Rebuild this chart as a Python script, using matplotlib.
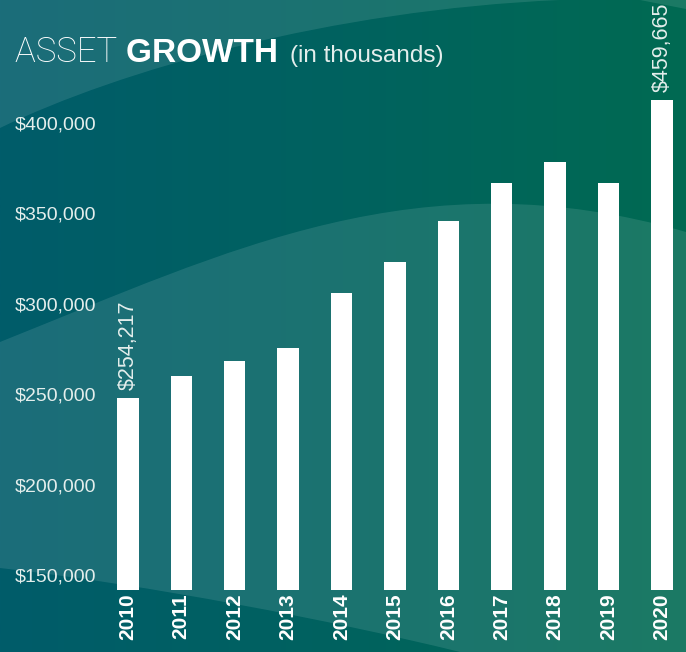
import matplotlib
matplotlib.use('Agg')
import matplotlib.pyplot as plt
import numpy as np
from matplotlib.colors import LinearSegmentedColormap
from matplotlib.path import Path
from matplotlib.patches import PathPatch
from matplotlib.transforms import blended_transform_factory

# data (bar heights on the printed axis)
years = ['2010', '2011', '2012', '2013', '2014', '2015',
         '2016', '2017', '2018', '2019', '2020']
assets = [248900, 261200, 269300, 276500, 307100, 324000,
          346500, 367500, 379100, 367500, 413500]
value_labels = {0: '$254,217', 10: '$459,665'}
yticks = [150000, 200000, 250000, 300000, 350000, 400000]
ytick_labels = ['$150,000', '$200,000', '$250,000', '$300,000', '$350,000', '$400,000']

W, H = 686, 652
txt = '#e4eeec'
fig = plt.figure(figsize=(W / 100, H / 100), dpi=100)

# background: horizontal gradient + lighter waves
bg = fig.add_axes([0, 0, 1, 1], zorder=-1)
cmap = LinearSegmentedColormap.from_list('bg', ['#005c6a', '#00625f', '#006a52'])
bg.imshow(np.linspace(0, 1, 256)[None, :], cmap=cmap, aspect='auto',
          extent=(0, W, H, 0))
bg.set_xlim(0, W)
bg.set_ylim(H, 0)
bg.axis('off')

C4, L, M = Path.CURVE4, Path.LINETO, Path.MOVETO
waves = [
    Path([(0, 0), (0, 128), (120, 70), (330, 10), (560, 0), (0, 0)],
         [M, L, C4, C4, C4, Path.CLOSEPOLY]),
    Path([(0, 342), (230, 250), (420, 155), (686, 232), (686, 652), (460, 652),
          (330, 620), (150, 585), (0, 568), (0, 342)],
         [M, C4, C4, C4, L, L, C4, C4, C4, Path.CLOSEPOLY]),
    Path([(640, 0), (686, 0), (686, 9), (640, 0)], [M, L, L, Path.CLOSEPOLY]),
]
for p in waves:
    bg.add_patch(PathPatch(p, facecolor='white', alpha=0.11, lw=0))

# main bars
ax = fig.add_axes([0.1474, 0.0956, 0.8526, 0.7967])
ax.patch.set_alpha(0)
x = np.arange(len(years))
ax.bar(x, assets, width=0.4, color='white', zorder=3)
ax.set_xlim(-0.5, 10.45)
ax.set_ylim(143000, 430000)
for s in ax.spines.values():
    s.set_visible(False)
ax.set_yticks([])
ax.set_xticks(x, years, rotation=90, fontsize=15, fontweight='bold',
              color='white', family='Liberation Sans')
ax.tick_params(axis='x', length=0, pad=3)

tr = blended_transform_factory(fig.transFigure, ax.transData)
for v, lab in zip(yticks, ytick_labels):
    ax.text(15 / W, v, lab, transform=tr, ha='left', va='center',
            fontsize=14, color=txt, family='Liberation Sans')

for i, lab in value_labels.items():
    ax.annotate(lab, (i, assets[i]), xytext=(0, 5.5), textcoords='offset points',
                rotation=90, ha='center', va='bottom', fontsize=15.5,
                color=txt, family='Liberation Sans',
                annotation_clip=False)

# title in three pieces
base_y = (H - 62) / H
t1 = fig.text(15 / W, base_y, 'ASSET ', fontsize=25, color='white',
              family='Roboto', fontweight='light', va='baseline')
fig.canvas.draw()
t2 = fig.text(t1.get_window_extent().x1 / W, base_y, 'GROWTH ', fontsize=24,
              color='white', family='Liberation Sans', fontweight='bold',
              va='baseline')
fig.canvas.draw()
t3 = fig.text((t2.get_window_extent().x1 + 3) / W, base_y, '(in thousands)',
              fontsize=17.5, color=txt, family='Liberation Sans', va='baseline')

fig.savefig('out.png', dpi=100)
